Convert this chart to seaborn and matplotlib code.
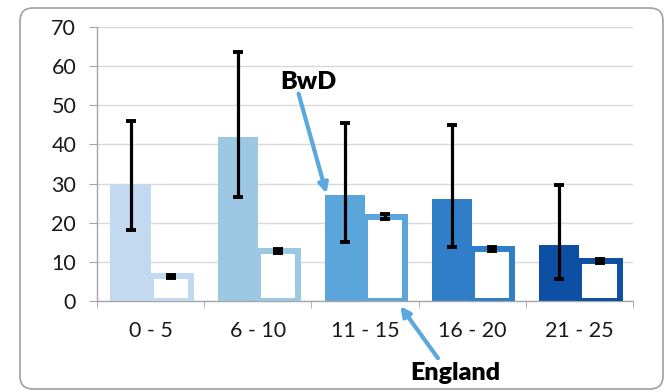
import numpy as np
import pandas as pd
import matplotlib
matplotlib.use('Agg')
import matplotlib.pyplot as plt
from matplotlib.patches import FancyBboxPatch
import seaborn as sns

# dados
faixas = ['0 - 5', '6 - 10', '11 - 15', '16 - 20', '21 - 25']
bwd = [30, 42, 27, 26, 14.2]
bwd_baixo = [18.2, 26.5, 15, 13.9, 5.7]
bwd_alto = [46, 63.6, 45.4, 45, 29.7]
england = [6.3, 12.8, 21.6, 13.2, 10.3]
england_erro = [0.4, 0.6, 0.6, 0.5, 0.5]
cores = ['#C3D9EF', '#9CC8E3', '#5AA5DA', '#2F7EC7', '#0D50A3']

df = pd.DataFrame({
    'faixa': faixas * 2,
    'valor': bwd + england,
    'serie': ['BwD'] * 5 + ['England'] * 5,
})

sns.set_style('white')
plt.rcParams['font.family'] = ['Lato', 'DejaVu Sans']

fig = plt.figure(figsize=(6.7, 3.92), dpi=100)
ax = fig.add_axes([0.1448, 0.232, 0.80, 0.699])

sns.barplot(data=df, x='faixa', y='valor', hue='serie', width=0.75,
            palette=['#888888', '#888888'], legend=False, ax=ax, zorder=2)

# recolorir barras: BwD cheias, England so contorno
barras = ax.patches
n = len(faixas)
for i in range(n):
    b = barras[i]
    b.set_facecolor(cores[i])
    b.set_edgecolor('none')
    e = barras[n + i]
    e.set_facecolor('white')
    e.set_edgecolor(cores[i])
    e.set_linewidth(4.3)
    e.set_zorder(3)

# barras de erro
x_bwd = np.array([barras[i].get_x() + barras[i].get_width() / 2 for i in range(n)])
x_eng = np.array([barras[n + i].get_x() + barras[n + i].get_width() / 2 for i in range(n)])
bwd_arr = np.array(bwd)
yerr = [bwd_arr - np.array(bwd_baixo), np.array(bwd_alto) - bwd_arr]
ax.errorbar(x_bwd, bwd, yerr=yerr, fmt='none', ecolor='black', elinewidth=2.3,
            capsize=3.3, capthick=2.8, zorder=5)
ax.errorbar(x_eng, england, yerr=england_erro, fmt='none', ecolor='black',
            elinewidth=2.3, capsize=3.3, capthick=2.8, zorder=5)

ax.set_ylim(0, 70)
ax.set_xlim(-0.5, 4.5)
ax.set_yticks(range(0, 71, 10))
ax.yaxis.grid(True, color='#D9D9D9', linewidth=1)
ax.set_axisbelow(True)
ax.set_xlabel('')
ax.set_ylabel('')
for lado in ['top', 'right']:
    ax.spines[lado].set_visible(False)
for lado in ['left', 'bottom']:
    ax.spines[lado].set_color('#A6A6A6')
    ax.spines[lado].set_linewidth(1)
ax.tick_params(axis='y', length=6, color='#A6A6A6', pad=9, labelsize=15.5, labelcolor='#1a1a1a', left=True)
ax.tick_params(axis='x', which='major', length=0, pad=14, labelsize=15.5, labelcolor='#1a1a1a')
ax.set_xticks(np.arange(-0.5, 5, 1), minor=True)
ax.tick_params(axis='x', which='minor', length=5, color='#A6A6A6', bottom=True)

# anotacoes
cor_seta = '#5AA9DE'
ax.text(1.47, 55.9, 'BwD', fontsize=18, fontweight='heavy', ha='center', va='center', color='black')
ax.annotate('', xy=(1.64, 27.5), xytext=(1.38, 53),
            arrowprops=dict(arrowstyle='-|>', color=cor_seta, lw=3, mutation_scale=14, shrinkA=0, shrinkB=0),
            zorder=6)
ax.text(2.84, -18.5, 'England', fontsize=18, fontweight='heavy', ha='center', va='center',
        color='black', clip_on=False)
ax.annotate('', xy=(2.33, -1.3), xytext=(2.68, -14.6), annotation_clip=False,
            arrowprops=dict(arrowstyle='-|>', color=cor_seta, lw=3, mutation_scale=14, shrinkA=0, shrinkB=0),
            zorder=6)

# moldura arredondada
moldura = FancyBboxPatch((0.2, 0.03), 6.43, 3.81, boxstyle='round,pad=0,rounding_size=0.13',
                         transform=fig.dpi_scale_trans, facecolor='none', edgecolor='#A0A0A0',
                         linewidth=1.2, zorder=0)
fig.patches.append(moldura)

fig.savefig('out.png', dpi=100)
